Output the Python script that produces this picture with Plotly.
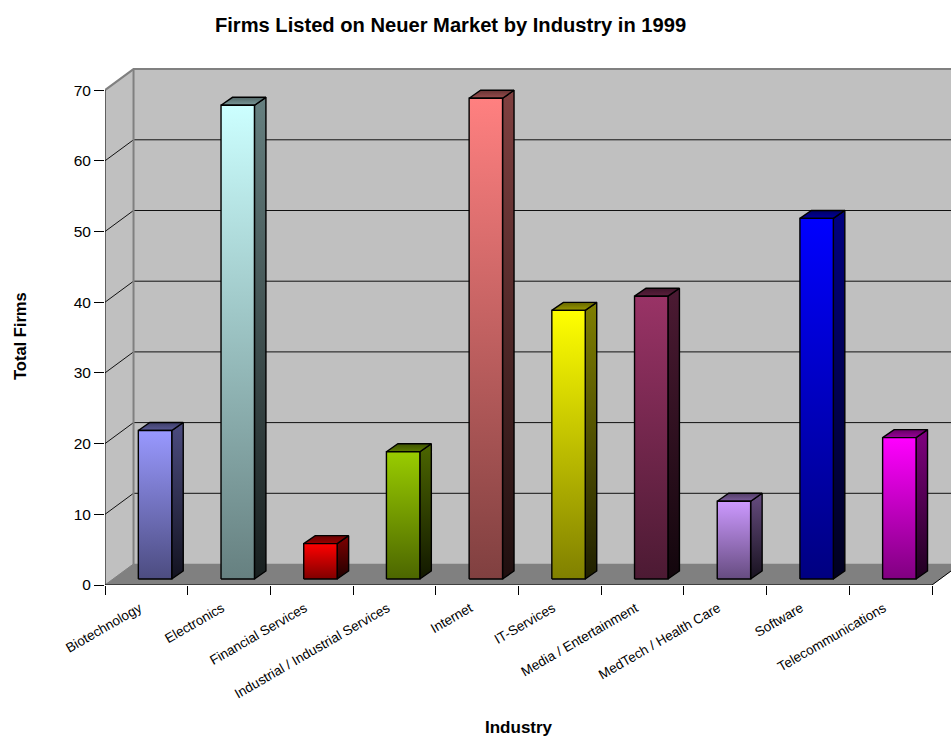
import plotly.graph_objects as go

categories = ["Biotechnology", "Electronics", "Financial Services",
              "Industrial / Industrial Services", "Internet", "IT-Services",
              "Media / Entertainment", "MedTech / Health Care", "Software",
              "Telecommunications"]
total_firms = [21, 67, 5, 18, 68, 38, 40, 11, 51, 20]
bar_rgb = [(153, 153, 255), (204, 255, 255), (255, 0, 0), (153, 204, 0), (255, 128, 128),
           (255, 255, 0), (153, 51, 102), (204, 153, 255), (0, 0, 255), (255, 0, 255)]
y_ticks = [0, 10, 20, 30, 40, 50, 60, 70]

FONT = "Liberation Sans"
# projection of the pseudo-3D box in axis units
WALL_DX, WALL_DY = 0.345, 2.97
BAR_LEFT, BAR_W = 0.403, 0.404
BAR_BASE = 0.85
BAR_DX, BAR_DY = 0.139, 1.13
N = len(categories)
PLOT_W, PLOT_H, BOTTOM, LEFT = 846, 520, 151, 105


def shade(rgb, k):
    return "rgb(%d,%d,%d)" % tuple(round(c * k) for c in rgb)


def poly(xs, ys, fill=None, grad=None, line="#000000", width=1.4):
    kw = dict(x=xs, y=ys, mode="lines", line=dict(color=line, width=width), hoverinfo="skip",
              showlegend=False, cliponaxis=False)
    if fill or grad:
        kw["fill"] = "toself"
        if grad:
            kw["fillgradient"] = dict(type="vertical", colorscale=[[0, grad[0]], [1, grad[1]]])
        else:
            kw["fillcolor"] = fill
    return go.Scatter(**kw)


fig = go.Figure()
# side wall, back wall, floor
fig.add_trace(poly([0, WALL_DX, WALL_DX, 0, 0], [0, WALL_DY, 70 + WALL_DY, 70, 0],
                   fill="#c0c0c0", line="#c0c0c0", width=0.5))
fig.add_trace(poly([WALL_DX, N + WALL_DX, N + WALL_DX, WALL_DX, WALL_DX],
                   [WALL_DY, WALL_DY, 70 + WALL_DY, 70 + WALL_DY, WALL_DY],
                   fill="#c0c0c0", line="#c0c0c0", width=0.5))
fig.add_trace(poly([0, N, N + WALL_DX, WALL_DX, 0], [0, 0, WALL_DY, WALL_DY, 0],
                   fill="#808080", line="#808080", width=0.5))
# gridlines
for v in y_ticks[1:-1]:
    fig.add_trace(poly([0, WALL_DX, N + WALL_DX], [v, v + WALL_DY, v + WALL_DY],
                       line="#111111", width=1))
# wall frame
fig.add_trace(poly([0, WALL_DX, N + WALL_DX], [70, 70 + WALL_DY, 70 + WALL_DY], line="#808080", width=2))
fig.add_trace(poly([WALL_DX, WALL_DX], [WALL_DY, 70 + WALL_DY], line="#808080", width=2))
fig.add_trace(poly([0, WALL_DX], [0, WALL_DY], line="#808080", width=1))
# axis lines
fig.add_trace(poly([0, 0], [0, 70], line="#000000", width=1))
fig.add_trace(poly([0, N], [0, 0], line="#000000", width=1))
fig.add_trace(poly([N, N + WALL_DX], [0, WALL_DY], line="#000000", width=1))

# bars
for i, (v, rgb) in enumerate(zip(total_firms, bar_rgb)):
    x0, x1 = i + BAR_LEFT, i + BAR_LEFT + BAR_W
    y0, y1 = BAR_BASE, BAR_BASE + v
    fig.add_trace(poly([x1, x1 + BAR_DX, x1 + BAR_DX, x1, x1],
                       [y0, y0 + BAR_DY, y1 + BAR_DY, y1, y0],
                       grad=(shade(rgb, 0.12), shade(rgb, 0.5))))
    fig.add_trace(poly([x0, x1, x1 + BAR_DX, x0 + BAR_DX, x0],
                       [y1, y1, y1 + BAR_DY, y1 + BAR_DY, y1],
                       grad=(shade(rgb, 0.6), shade(rgb, 0.4))))
    fig.add_trace(poly([x0, x1, x1, x0, x0], [y0, y0, y1, y1, y0],
                       grad=(shade(rgb, 0.5), shade(rgb, 1.0))))

fig.update_layout(
    width=951, height=736, margin=dict(l=LEFT, r=0, t=65, b=BOTTOM),
    paper_bgcolor="#ffffff", plot_bgcolor="#ffffff", showlegend=False,
    font=dict(family=FONT, color="#000000"),
    title=dict(text="<b>Firms Listed on Neuer Market by Industry in 1999</b>",
               font=dict(family=FONT, size=20.15), x=450.5 / 951, xanchor="center",
               y=1 - 25 / 736, yanchor="middle"),
    xaxis=dict(range=[0, PLOT_W / 82.7], tickmode="array",
               tickvals=[i + 0.5 for i in range(N)], ticktext=categories,
               tickangle=-30, tickfont=dict(family=FONT, size=13.5), ticks="", ticklen=9,
               ticklabelstandoff=12, ticklabelshift=-7,
               showgrid=False, zeroline=False, showline=False, automargin=False,
               minor=dict(tickmode="array", tickvals=list(range(N + 1)), ticks="outside",
                          ticklen=9, tickcolor="#000000", tickwidth=1, showgrid=False)),
    yaxis=dict(range=[0, PLOT_H / 7.07], tickmode="array", tickvals=y_ticks, ticks="outside",
               ticklen=10, tickcolor="#000000", tickwidth=1,
               tickfont=dict(family=FONT, size=15.5), showgrid=False, zeroline=False,
               showline=False, automargin=False),
    annotations=[
        dict(text="<b>Industry</b>", xref="paper", yref="paper", showarrow=False,
             x=(519 - LEFT) / PLOT_W, y=(736 - BOTTOM - 727) / PLOT_H, xanchor="center", yanchor="middle",
             font=dict(family=FONT, size=17)),
        dict(text="<b>Total Firms</b>", xref="paper", yref="paper", showarrow=False, textangle=-90,
             x=(20 - LEFT) / PLOT_W, y=(736 - BOTTOM - 336) / PLOT_H, xanchor="center", yanchor="middle",
             font=dict(family=FONT, size=16.5)),
    ],
)
fig.write_html("out.html", config={"displayModeBar": False},
               post_script="document.body.style.margin='0';")
